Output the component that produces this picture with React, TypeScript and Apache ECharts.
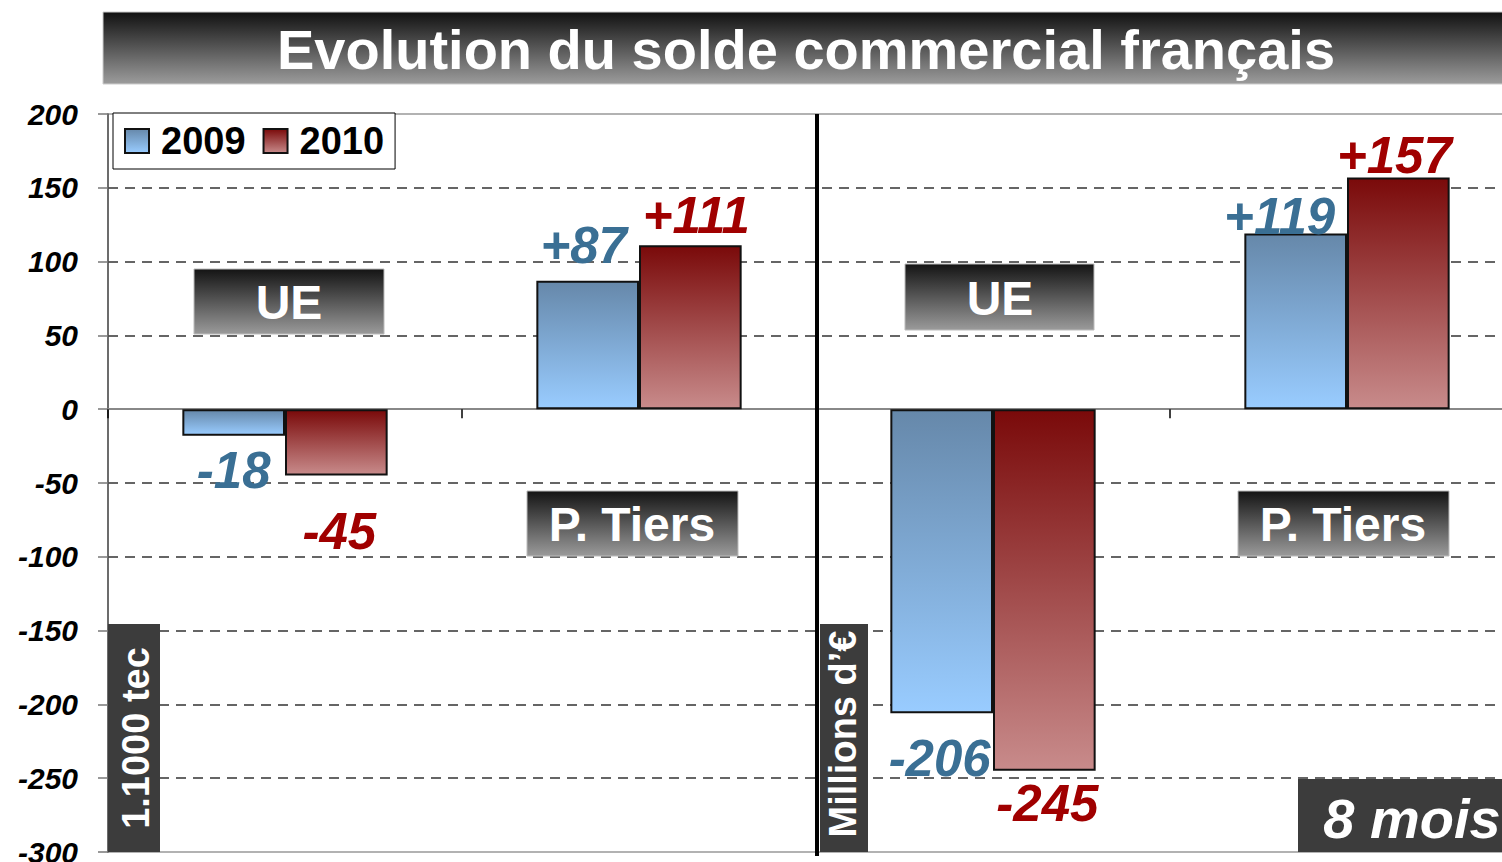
import React, { useEffect, useRef } from "react";
import * as echarts from "echarts";

const categories = ["UE (1.1000 tec)", "P. Tiers (1.1000 tec)", "UE (Millions d'€)", "P. Tiers (Millions d'€)"];
const seriesNames = ["2009", "2010"];
const values2009 = [-18, 87, -206, 119];
const values2010 = [-45, 111, -245, 157];
const yTicks = { min: -300, max: 200, interval: 50 };

const title = "Evolution du solde commercial français";
const groupLabels = ["UE", "P. Tiers", "UE", "P. Tiers"];
const unitLabels = ["1.1000 tec", "Millions d’€"];
const periodLabel = "8 mois";

// label placement (style only)
const labelPos2009 = [
  { position: "bottom", distance: 9, dx: 0 },
  { position: "top", distance: 10, dx: -4 },
  { position: "bottom", distance: 20, dx: -2 },
  { position: "top", distance: -8, dx: -16 },
];
const labelPos2010 = [
  { position: "bottom", distance: 30, dx: 3 },
  { position: "top", distance: 4, dx: 6 },
  { position: "bottom", distance: 7, dx: 3 },
  { position: "top", distance: -4, dx: -4 },
];

const FONT = "'Liberation Sans', Arial, sans-serif";

const grad = (top: string, bottom: string) => ({
  type: "linear",
  x: 0,
  y: 0,
  x2: 0,
  y2: 1,
  colorStops: [
    { offset: 0, color: top },
    { offset: 1, color: bottom },
  ],
});

const fmt = (v: number) => (v > 0 ? "+" + v : "" + v);

function buildData(vals: number[], pos: any[], color: string) {
  return vals.map((v, i) => ({
    value: v,
    label: {
      show: true,
      position: pos[i].position,
      distance: pos[i].distance,
      offset: [pos[i].dx, 0],
      formatter: fmt(v),
      color,
      fontSize: 51,
      fontWeight: "bold",
      fontStyle: "italic",
      fontFamily: FONT,
    },
  }));
}

function darkBox(x: number, y: number, w: number, h: number) {
  return {
    type: "rect",
    shape: { x, y, width: w, height: h },
    style: { fill: grad("#141414", "#9a9a9a"), stroke: "#bbb", lineWidth: 1 },
    z: 10,
  };
}

function txt(x: number, y: number, text: string, size: number, extra: any = {}) {
  return {
    type: "text",
    x,
    y,
    rotation: extra.rotation || 0,
    z: 11,
    style: {
      text,
      fill: "#fff",
      fontSize: size,
      fontWeight: "bold",
      fontStyle: extra.italic ? "italic" : "normal",
      fontFamily: FONT,
      align: "center",
      verticalAlign: "middle",
      textAlign: "center",
      textVerticalAlign: "middle",
    },
  };
}

export default function App() {
  const ref = useRef<HTMLDivElement>(null);
  useEffect(() => {
    if (!ref.current) return;
    const chart = echarts.init(ref.current, null, { renderer: "svg" });
    const option: any = {
      animation: false,
      backgroundColor: "#fff",
      grid: {
        left: 108,
        top: 114,
        width: 1416,
        height: 738,
        outerBoundsMode: "none",
        containLabel: false,
        show: true,
        borderColor: "#999",
        borderWidth: 1.5,
        backgroundColor: "transparent",
      },
      legend: {
        left: 113,
        top: 113,
        padding: [9, 11],
        itemWidth: 24,
        itemHeight: 24,
        itemGap: 17,
        icon: "rect",
        borderColor: "#000",
        borderWidth: 1,
        backgroundColor: "#fff",
        data: seriesNames,
        textStyle: {
          fontSize: 38,
          fontWeight: "bold",
          color: "#000",
          fontFamily: FONT,
          padding: [0, 0, 0, 7],
        },
        z: 20,
      },
      xAxis: {
        type: "category",
        data: categories,
        axisLabel: { show: false },
        axisLine: { show: true, onZero: true, lineStyle: { color: "#888", width: 2 } },
        axisTick: { show: true, length: 9, lineStyle: { color: "#000", width: 1.5 } },
        splitLine: { show: false },
      },
      yAxis: {
        type: "value",
        min: yTicks.min,
        max: yTicks.max,
        interval: yTicks.interval,
        axisLine: { show: true, lineStyle: { color: "#555", width: 1.5 } },
        axisTick: { show: true, length: 10, lineStyle: { color: "#777", width: 1.5 } },
        axisLabel: {
          margin: 30,
          fontSize: 30,
          fontWeight: "bold",
          fontStyle: "italic",
          color: "#000",
          fontFamily: FONT,
        },
        splitLine: {
          show: true,
          showMinLine: false,
          showMaxLine: false,
          lineStyle: { color: "#333", width: 1.5, type: [10, 7] },
        },
      },
      series: [
        {
          name: seriesNames[0],
          type: "bar",
          barGap: "0%",
          barCategoryGap: "42%",
          itemStyle: { color: grad("#6688aa", "#99ccff"), borderColor: "#111", borderWidth: 2 },
          data: buildData(values2009, labelPos2009, "#3a6f94"),
        },
        {
          name: seriesNames[1],
          type: "bar",
          barGap: "0%",
          barCategoryGap: "42%",
          itemStyle: { color: grad("#7a0a0a", "#c88b8b"), borderColor: "#111", borderWidth: 2 },
          data: buildData(values2010, labelPos2010, "#a00000"),
        },
      ],
      graphic: [
        {
          type: "rect",
          shape: { x: 103, y: 12, width: 1410, height: 72 },
          style: { fill: grad("#111111", "#9c9c9c"), stroke: "#ccc", lineWidth: 1 },
          z: 10,
        },
        txt(806, 49, title, 56),
        { type: "line", shape: { x1: 817, y1: 114, x2: 817, y2: 856 }, style: { stroke: "#000", lineWidth: 4 }, z: 12 },
        darkBox(194, 269, 190, 65),
        txt(289, 302, groupLabels[0], 48),
        darkBox(527, 491, 211, 65),
        txt(632, 524, groupLabels[1], 48),
        darkBox(905, 264, 189, 66),
        txt(1000, 298, groupLabels[2], 48),
        darkBox(1238, 491, 211, 65),
        txt(1343, 524, groupLabels[3], 48),
        { type: "rect", shape: { x: 108, y: 624, width: 52, height: 228 }, style: { fill: "#3c3c3c" }, z: 10 },
        txt(136, 738, unitLabels[0], 38, { rotation: Math.PI / 2 }),
        { type: "rect", shape: { x: 820, y: 624, width: 48, height: 228 }, style: { fill: "#3c3c3c" }, z: 10 },
        txt(843, 734, unitLabels[1], 38, { rotation: Math.PI / 2 }),
        { type: "rect", shape: { x: 1298, y: 779, width: 210, height: 73 }, style: { fill: "#3c3c3c" }, z: 10 },
        txt(1412, 818, periodLabel, 56, { italic: true }),
      ],
    };
    chart.setOption(option);
    return () => chart.dispose();
  }, []);
  return (
    <div
      ref={ref}
      style={{ position: "absolute", left: 0, top: 0, width: 1502, height: 862 }}
    />
  );
}
